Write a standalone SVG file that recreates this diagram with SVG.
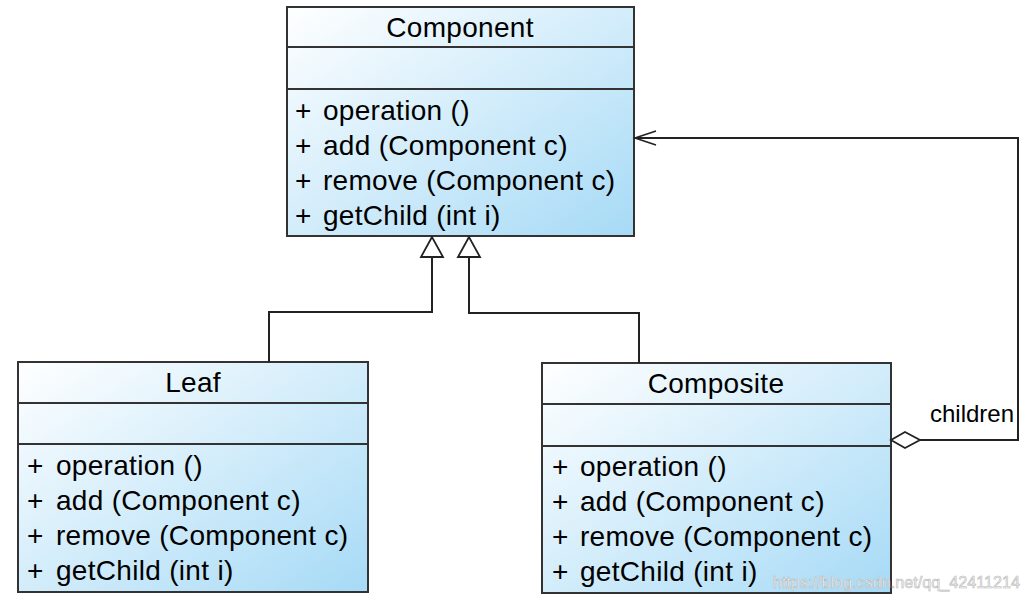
<svg xmlns="http://www.w3.org/2000/svg" width="1028" height="602" viewBox="0 0 1028 602">
<style>
.box{stroke:#333;stroke-width:2;fill:url(#g)}
.div{stroke:#333;stroke-width:1.8}
.t{font-family:"Liberation Sans",Arial,sans-serif;font-size:28px;fill:#000;letter-spacing:0.3px}
.c{text-anchor:middle}
.edge{fill:none;stroke:#222;stroke-width:2}
.wm{font-family:"Liberation Sans",Arial,sans-serif;font-size:17px;fill:#f4f4f4;stroke:#b8b8b8;stroke-width:0.6}
</style>
<defs>
<linearGradient id="g" x1="0" y1="0" x2="1" y2="1">
<stop offset="0" stop-color="#ffffff"/>
<stop offset="1" stop-color="#a6daf6"/>
</linearGradient>
</defs>
<rect width="1028" height="602" fill="#ffffff"/>
<g id="Component">
<rect class="box" x="287" y="7" width="347" height="229"/>
<line class="div" x1="287" y1="47" x2="634" y2="47"/>
<line class="div" x1="287" y1="89" x2="634" y2="89"/>
<text class="t c" x="460" y="37">Component</text>
<text class="t" x="295" y="120">+</text><text class="t" x="323" y="120">operation ()</text>
<text class="t" x="295" y="155">+</text><text class="t" x="323" y="155">add (Component c)</text>
<text class="t" x="295" y="190">+</text><text class="t" x="323" y="190">remove (Component c)</text>
<text class="t" x="295" y="225">+</text><text class="t" x="323" y="225">getChild (int i)</text>
</g>
<g id="Leaf">
<rect class="box" x="18" y="362" width="350" height="230"/>
<line class="div" x1="18" y1="403" x2="368" y2="403"/>
<line class="div" x1="18" y1="444" x2="368" y2="444"/>
<text class="t c" x="193" y="392">Leaf</text>
<text class="t" x="27" y="475">+</text><text class="t" x="56" y="475">operation ()</text>
<text class="t" x="27" y="510">+</text><text class="t" x="56" y="510">add (Component c)</text>
<text class="t" x="27" y="545">+</text><text class="t" x="56" y="545">remove (Component c)</text>
<text class="t" x="27" y="580">+</text><text class="t" x="56" y="580">getChild (int i)</text>
</g>
<g id="Composite">
<rect class="box" x="542" y="363" width="349" height="230"/>
<line class="div" x1="542" y1="404" x2="891" y2="404"/>
<line class="div" x1="542" y1="446" x2="891" y2="446"/>
<text class="t c" x="716" y="393">Composite</text>
<text class="t" x="552" y="476">+</text><text class="t" x="580" y="476">operation ()</text>
<text class="t" x="552" y="511">+</text><text class="t" x="580" y="511">add (Component c)</text>
<text class="t" x="552" y="546">+</text><text class="t" x="580" y="546">remove (Component c)</text>
<text class="t" x="552" y="581">+</text><text class="t" x="580" y="581">getChild (int i)</text>
</g>
<g id="connectors">
<polyline class="edge" points="269,362 269,312 432,312 432,257"/>
<polygon points="432,237 421,257 443,257" fill="#ffffff" stroke="#222" stroke-width="1.8"/>
<polyline class="edge" points="639,363 639,313 469,313 469,257"/>
<polygon points="469,237 458,257 480,257" fill="#ffffff" stroke="#222" stroke-width="1.8"/>
<polyline class="edge" points="920,440 1018,440 1018,138 635,138"/>
<polyline points="656,131 635,138 656,145" fill="none" stroke="#222" stroke-width="1.6"/>
<polygon points="891,440 905,432 920,440 905,448" fill="#ffffff" stroke="#222" stroke-width="1.8"/>
<text class="t" x="930" y="422" style="font-size:24px;letter-spacing:0">children</text>
</g>
<text class="wm" x="773" y="588" textLength="247" lengthAdjust="spacingAndGlyphs">https://blog.csdn.net/qq_42411214</text>
</svg>
